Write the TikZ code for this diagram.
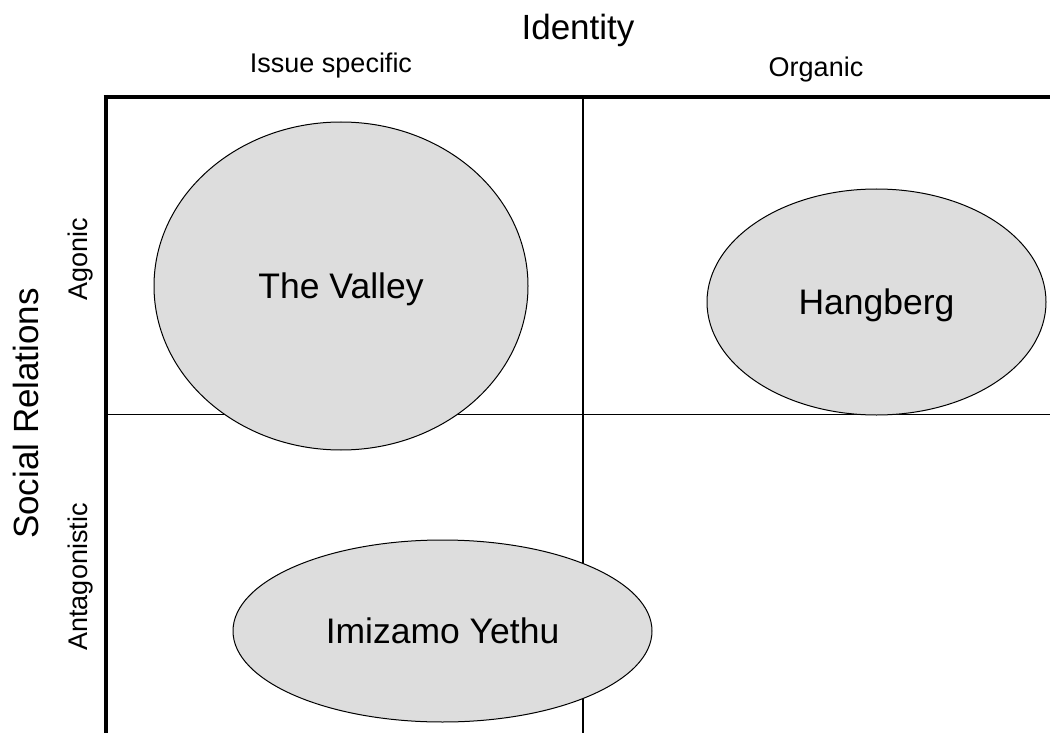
\documentclass[tikz,border=0pt]{standalone}
\usepackage{fontspec}
\setmainfont{Liberation Sans}
\usepackage{tikz}
\usetikzlibrary{shapes.geometric}

\definecolor{bubble}{HTML}{DDDDDD}
\tikzset{
    place/.style={ellipse, draw=black, line width=1pt, fill=bubble, inner sep=0pt, text depth=0pt, font=\fontsize{35.5}{40}\selectfont},
    axistitle/.style={inner sep=0pt, anchor=base, font=\fontsize{35}{40}\selectfont},
    axislabel/.style={inner sep=0pt, anchor=base, font=\fontsize{27}{30}\selectfont},
    grid/.style={line width=1.5pt},
    frame/.style={line width=4pt}
}

\begin{document}
\begin{tikzpicture}[x=1pt, y=-1pt]
        \useasboundingbox (0,0) rectangle (1050,733);

        \coordinate (tl) at (105.5,97);
        \coordinate (tr) at (1056,97);
        \coordinate (bl) at (105.5,740);
        \coordinate (mt) at (583,97);
        \coordinate (mb) at (583,740);
        \coordinate (ml) at (105.5,414.5);
        \coordinate (mr) at (1056,414.5);

        \draw[grid] (mt) -- (mb);
        \draw[grid] (ml) -- (mr);

        \node[place, minimum width=374pt, minimum height=328pt] (valley) at (341,286) {The Valley};
        \node[place, minimum width=339pt, minimum height=226pt] (hangberg) at (876.5,302) {Hangberg};
        \node[place, minimum width=419pt, minimum height=182pt] (imizamo) at (442.5,631) {Imizamo Yethu};

        \draw[frame] ([xshift=-2pt]tl) -- (tr);
        \draw[frame] ([yshift=2pt]tl) -- (bl);

        \node[axistitle] (identity) at (578,40) {Identity};
        \node[axislabel] (issue) at (331,73) {Issue specific};
        \node[axislabel] (organic) at (816,77) {Organic};

        \node[axistitle, rotate=90] (social) at (38,413.5) {Social Relations};
        \node[axislabel, rotate=90] (agonic) at (87,259) {Agonic};
        \node[axislabel, rotate=90] (antagonistic) at (87,577) {Antagonistic};
    \end{tikzpicture}
\end{document}
